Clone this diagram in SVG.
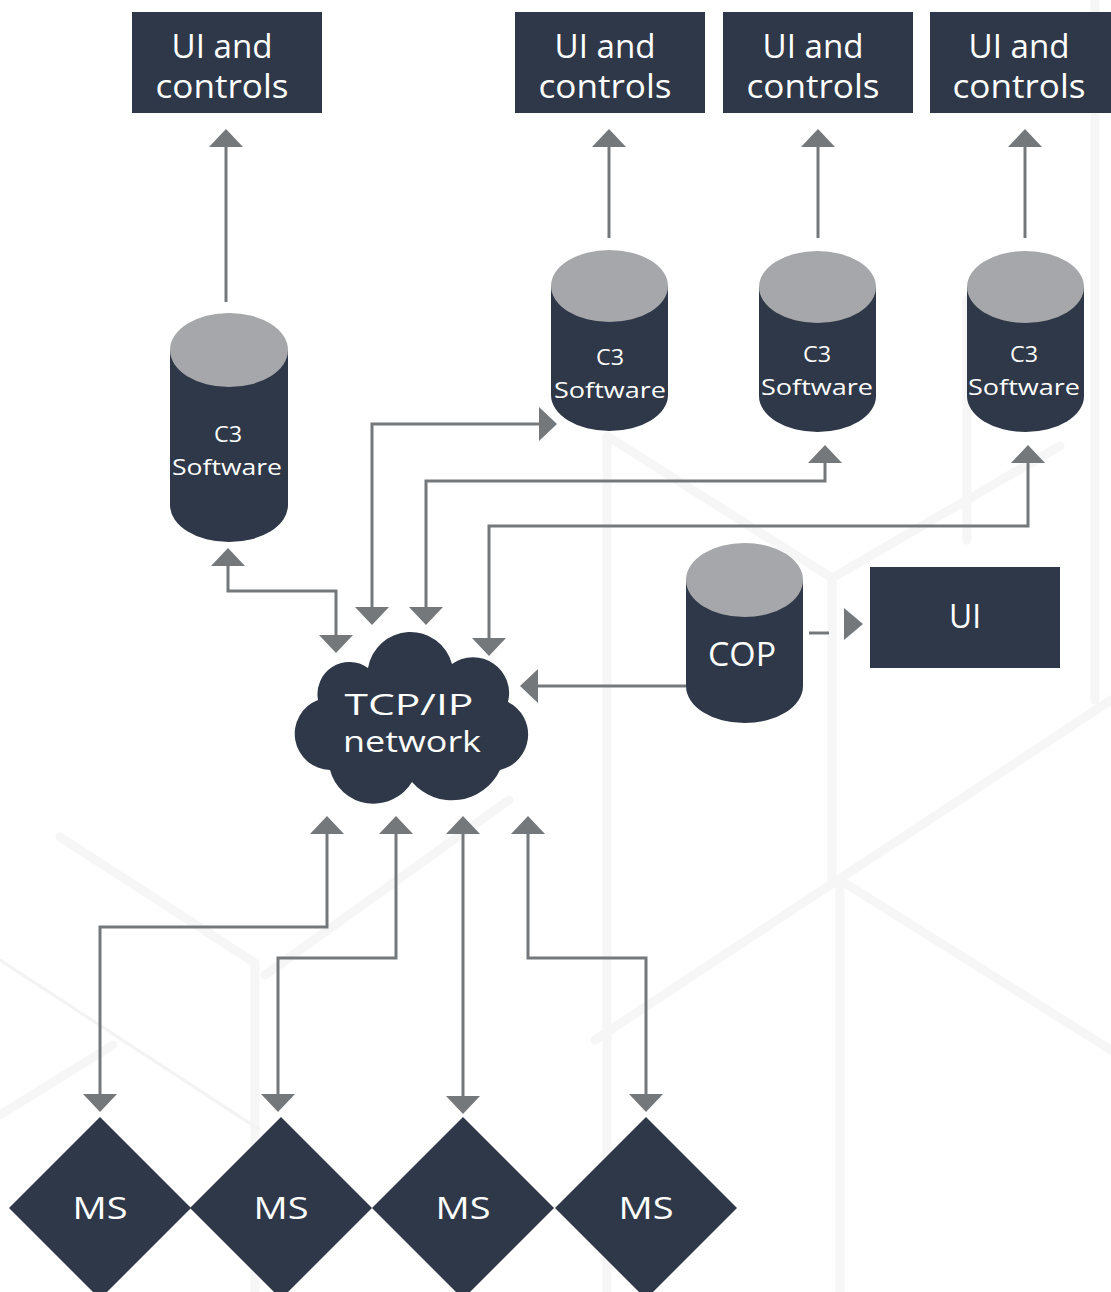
<svg xmlns="http://www.w3.org/2000/svg" width="1111" height="1292" viewBox="0 0 1111 1292">
<defs>
<style>
.dk{fill:#2f3848}
.top{fill:#a6a7aa}
.t{fill:#ffffff;font-family:"Open Sans","Noto Sans","Liberation Sans",sans-serif;text-anchor:middle}
.t32{font-size:32px}
.t22{font-size:22px}
.cn{fill:none;stroke:#75787b;stroke-width:3}
.ah{fill:#75787b}
.bg{fill:none;stroke:#f6f6f7;stroke-width:9;stroke-linecap:round;stroke-linejoin:round}
.bg2{fill:none;stroke:#f3f3f4;stroke-width:3}
</style>
<marker id="arr" viewBox="0 0 18 34" refX="0" refY="17" markerWidth="18" markerHeight="34" markerUnits="userSpaceOnUse" orient="auto-start-reverse">
<path d="M0,0 L18,17 L0,34 Z" fill="#75787b"/>
</marker>
</defs>
<rect width="1111" height="1292" fill="#ffffff"/>

<g id="background">
<path class="bg" d="M607,436 V1292"/>
<path class="bg" d="M832,578 V880"/>
<path class="bg" d="M607,436 L832,578 L1060,446"/>
<path class="bg" d="M967,300 V540"/>
<path class="bg" d="M1095,0 V700"/>
<path class="bg" d="M60,837 L255,963 V1292"/>
<path class="bg" d="M265,975 L509,800"/>
<path class="bg" d="M595,1040 L1111,700"/>
<path class="bg" d="M113,1045 L0,1115"/>
<path class="bg" d="M840,880 L1111,1050"/>
<path class="bg" d="M840,880 V1292"/>
<path class="bg2" d="M0,960 L260,1130"/>
</g>

<g id="connectors">
<path class="cn" d="M226,302 V147" marker-end="url(#arr)"/>
<path class="cn" d="M609,238 V147" marker-end="url(#arr)"/>
<path class="cn" d="M818,238 V147" marker-end="url(#arr)"/>
<path class="cn" d="M1025,238 V147" marker-end="url(#arr)"/>
<path class="cn" d="M228,566 V591 H336 V635" marker-start="url(#arr)" marker-end="url(#arr)"/>
<path class="cn" d="M372,607 V424 H539" marker-start="url(#arr)" marker-end="url(#arr)"/>
<path class="cn" d="M426,607 V481 H825 V463" marker-start="url(#arr)" marker-end="url(#arr)"/>
<path class="cn" d="M489,638 V526 H1028 V463" marker-start="url(#arr)" marker-end="url(#arr)"/>
<path class="cn" d="M686,686 H538" marker-end="url(#arr)"/>
<path class="cn" d="M809,633 H829"/>
<polygon class="ah" points="844,608 863,624 844,640"/>
<path class="cn" d="M327,834 V927 H100 V1094" marker-start="url(#arr)" marker-end="url(#arr)"/>
<path class="cn" d="M396,834 V958 H278 V1094" marker-start="url(#arr)" marker-end="url(#arr)"/>
<path class="cn" d="M463,834 V1096" marker-start="url(#arr)" marker-end="url(#arr)"/>
<path class="cn" d="M528,834 V958 H646 V1094" marker-start="url(#arr)" marker-end="url(#arr)"/>
</g>

<g id="ui1">
<rect class="dk" x="132" y="12" width="190" height="101"/>
<text class="t t32" x="222" y="58" textLength="101" lengthAdjust="spacingAndGlyphs">UI and</text>
<text class="t t32" x="222" y="98" textLength="133" lengthAdjust="spacingAndGlyphs">controls</text>
</g>
<g id="ui2">
<rect class="dk" x="515" y="12" width="190" height="101"/>
<text class="t t32" x="605" y="58" textLength="101" lengthAdjust="spacingAndGlyphs">UI and</text>
<text class="t t32" x="605" y="98" textLength="133" lengthAdjust="spacingAndGlyphs">controls</text>
</g>
<g id="ui3">
<rect class="dk" x="723" y="12" width="190" height="101"/>
<text class="t t32" x="813" y="58" textLength="101" lengthAdjust="spacingAndGlyphs">UI and</text>
<text class="t t32" x="813" y="98" textLength="133" lengthAdjust="spacingAndGlyphs">controls</text>
</g>
<g id="ui4">
<rect class="dk" x="930" y="12" width="181" height="101"/>
<text class="t t32" x="1019" y="58" textLength="101" lengthAdjust="spacingAndGlyphs">UI and</text>
<text class="t t32" x="1019" y="98" textLength="133" lengthAdjust="spacingAndGlyphs">controls</text>
</g>

<g id="c3a">
<path class="dk" d="M170,350 V505 A59,37 0 0 0 288,505 V350 Z"/>
<ellipse class="top" cx="229" cy="350" rx="59" ry="37"/>
<text class="t t22" x="228" y="442" textLength="28" lengthAdjust="spacingAndGlyphs">C3</text>
<text class="t t22" x="227" y="475" textLength="110" lengthAdjust="spacingAndGlyphs">Software</text>
</g>
<g id="c3b">
<path class="dk" d="M551,286 V395 A58.5,36 0 0 0 668,395 V286 Z"/>
<ellipse class="top" cx="609.5" cy="286" rx="58.5" ry="36"/>
<text class="t t22" x="610" y="365" textLength="28" lengthAdjust="spacingAndGlyphs">C3</text>
<text class="t t22" x="610" y="398" textLength="112" lengthAdjust="spacingAndGlyphs">Software</text>
</g>
<g id="c3c">
<path class="dk" d="M759,287 V396 A58.5,36 0 0 0 876,396 V287 Z"/>
<ellipse class="top" cx="817.5" cy="287" rx="58.5" ry="36"/>
<text class="t t22" x="817" y="362" textLength="28" lengthAdjust="spacingAndGlyphs">C3</text>
<text class="t t22" x="817" y="395" textLength="112" lengthAdjust="spacingAndGlyphs">Software</text>
</g>
<g id="c3d">
<path class="dk" d="M967,287 V396 A58.5,36 0 0 0 1084,396 V287 Z"/>
<ellipse class="top" cx="1025.5" cy="287" rx="58.5" ry="36"/>
<text class="t t22" x="1024" y="362" textLength="28" lengthAdjust="spacingAndGlyphs">C3</text>
<text class="t t22" x="1024" y="395" textLength="112" lengthAdjust="spacingAndGlyphs">Software</text>
</g>

<g id="cop">
<path class="dk" d="M686,580 V686 A58.5,37 0 0 0 803,686 V580 Z"/>
<ellipse class="top" cx="744.5" cy="580" rx="58.5" ry="37"/>
<text class="t t32" x="742" y="666" textLength="68" lengthAdjust="spacingAndGlyphs">COP</text>
</g>
<g id="ui5">
<rect class="dk" x="870" y="567" width="190" height="101"/>
<text class="t t32" x="965" y="628" textLength="32" lengthAdjust="spacingAndGlyphs">UI</text>
</g>

<g id="network">
<path class="dk" d="M318,700 A32,32 0 0 1 368,668 A43,43 0 0 1 452,664 A36,36 0 0 1 508,702 A36.4,36.4 0 0 1 500,770 A53,53 0 0 1 412,782 A45,45 0 0 1 330,770 A36.2,36.2 0 0 1 318,700 Z"/>
<text class="t" style="font-size:30px" x="409" y="715" textLength="129" lengthAdjust="spacingAndGlyphs">TCP/IP</text>
<text class="t" style="font-size:30px" x="412" y="752" textLength="138" lengthAdjust="spacingAndGlyphs">network</text>
</g>

<g id="ms1">
<polygon class="dk" points="100,1117 191,1208 100,1299 9,1208"/>
<text class="t" style="font-size:31px" x="100" y="1219" textLength="55" lengthAdjust="spacingAndGlyphs">MS</text>
</g>
<g id="ms2">
<polygon class="dk" points="281,1117 372,1208 281,1299 190,1208"/>
<text class="t" style="font-size:31px" x="281" y="1219" textLength="55" lengthAdjust="spacingAndGlyphs">MS</text>
</g>
<g id="ms3">
<polygon class="dk" points="463,1117 554,1208 463,1299 372,1208"/>
<text class="t" style="font-size:31px" x="463" y="1219" textLength="55" lengthAdjust="spacingAndGlyphs">MS</text>
</g>
<g id="ms4">
<polygon class="dk" points="646,1117 737,1208 646,1299 555,1208"/>
<text class="t" style="font-size:31px" x="646" y="1219" textLength="55" lengthAdjust="spacingAndGlyphs">MS</text>
</g>
</svg>
